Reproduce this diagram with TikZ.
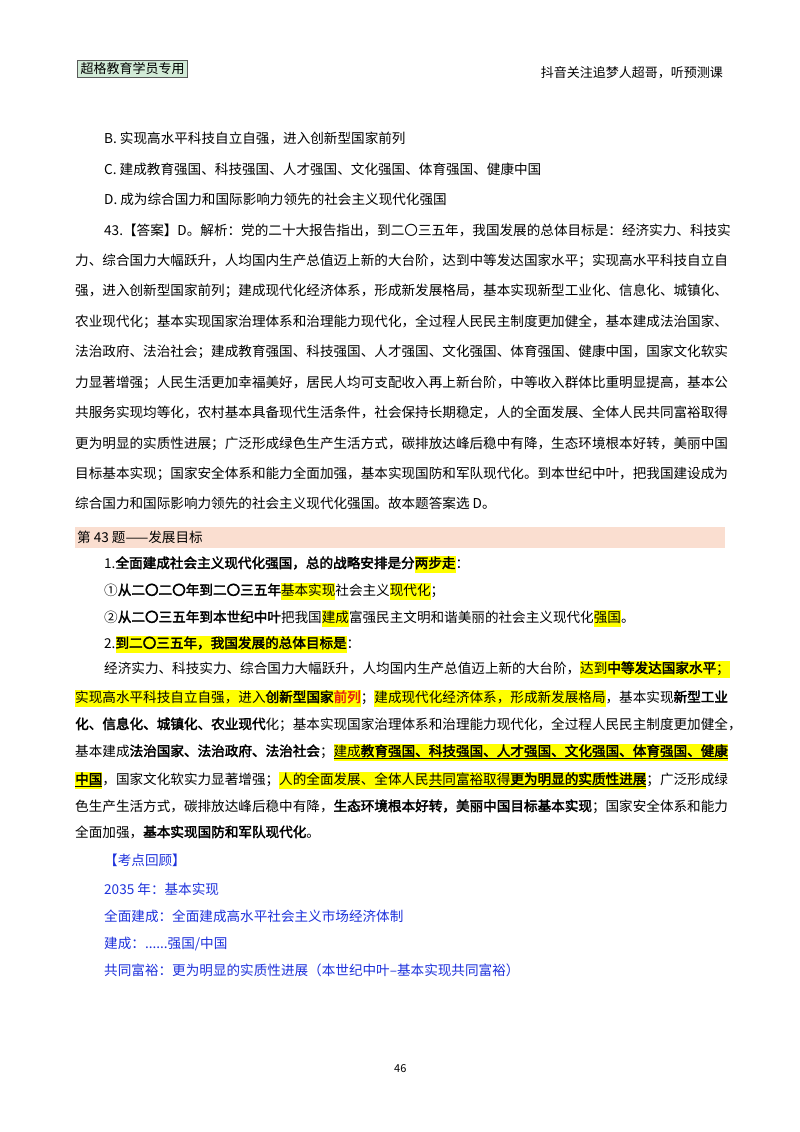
\documentclass[tikz,border=0pt]{standalone}
\usepackage{fontspec}
\setmainfont{Noto Sans CJK SC}[AutoFakeBold=2.5]
\XeTeXlinebreaklocale "zh"
\XeTeXlinebreakskip=0pt plus 3pt
\definecolor{hly}{RGB}{255,255,0}
\definecolor{pinkbar}{RGB}{250,222,208}
\definecolor{bl}{RGB}{30,50,220}
\definecolor{rd}{RGB}{230,30,20}
\definecolor{hdrgreen}{RGB}{210,235,215}
\newcommand\hl[1]{{\setlength\fboxsep{0pt}\colorbox{hly}{\rule[-4.5pt]{0pt}{17pt}#1}}}
\newcommand\jl[1]{\makebox[649pt][s]{#1}}
\newcommand\jm[1]{\makebox[620pt][s]{#1}}
\begin{document}
\begin{tikzpicture}[x=1pt,y=-1pt,
  txt/.style={anchor=base west,inner sep=0pt,font=\fontsize{13.6}{16}\selectfont},
  btxt/.style={txt,text=bl}]
\useasboundingbox (0,0) rectangle (800,1132);
\fill[white] (0,0) rectangle (800,1132);
% header
\node[draw=black!65,fill=hdrgreen,line width=1pt,inner xsep=3pt,inner ysep=2pt,anchor=west,font=\fontsize{13}{15}\selectfont] (hdr) at (77,69) {超格教育学员专用};
\node[anchor=east,inner sep=0pt,font=\fontsize{13}{15}\selectfont] (hdr2) at (723,73) {抖音关注追梦人超哥，听预测课};
% options
\node[txt] (b) at (104,143) {B. 实现高水平科技自立自强，进入创新型国家前列};
\node[txt] (c) at (104,174) {C. 建成教育强国、科技强国、人才强国、文化强国、体育强国、健康中国};
\node[txt] (d) at (104,204) {D. 成为综合国力和国际影响力领先的社会主义现代化强国};
% answer
\node[txt] (p1) at (104,235) {\jm{43.【答案】D。解析：党的二十大报告指出，到二〇三五年，我国发展的总体目标是：经济实力、科技实}};
\node[txt] (p2) at (75,265) {\jl{力、综合国力大幅跃升，人均国内生产总值迈上新的大台阶，达到中等发达国家水平；实现高水平科技自立自}};
\node[txt] (p3) at (75,295) {\jl{强，进入创新型国家前列；建成现代化经济体系，形成新发展格局，基本实现新型工业化、信息化、城镇化、}};
\node[txt] (p4) at (75,326) {\jl{农业现代化；基本实现国家治理体系和治理能力现代化，全过程人民民主制度更加健全，基本建成法治国家、}};
\node[txt] (p5) at (75,356) {\jl{法治政府、法治社会；建成教育强国、科技强国、人才强国、文化强国、体育强国、健康中国，国家文化软实}};
\node[txt] (p6) at (75,387) {\jl{力显著增强；人民生活更加幸福美好，居民人均可支配收入再上新台阶，中等收入群体比重明显提高，基本公}};
\node[txt] (p7) at (75,417) {\jl{共服务实现均等化，农村基本具备现代生活条件，社会保持长期稳定，人的全面发展、全体人民共同富裕取得}};
\node[txt] (p8) at (75,448) {\jl{更为明显的实质性进展；广泛形成绿色生产生活方式，碳排放达峰后稳中有降，生态环境根本好转，美丽中国}};
\node[txt] (p9) at (75,478) {\jl{目标基本实现；国家安全体系和能力全面加强，基本实现国防和军队现代化。到本世纪中叶，把我国建设成为}};
\node[txt] (p10) at (75,508) {综合国力和国际影响力领先的社会主义现代化强国。故本题答案选 D。};
% pink bar
\fill[pinkbar] (75,527) rectangle (725,548);
\node[txt] (t43) at (77,542) {第 43 题——发展目标};
\node[txt] (s1) at (104,568) {1.\textbf{全面建成社会主义现代化强国，总的战略安排是分}\hl{\textbf{两步走}}：};
\node[txt] (s2) at (104,595) {①\textbf{从二〇二〇年到二〇三五年}\hl{基本实现}社会主义\hl{现代化}；};
\node[txt] (s3) at (104,622) {②\textbf{从二〇三五年到本世纪中叶}把我国\hl{建成}富强民主文明和谐美丽的社会主义现代化\hl{强国}。};
\node[txt] (s4) at (104,648) {2.\hl{\textbf{到二〇三五年，我国发展的总体目标是}}：};
\node[txt] (s5) at (104,673) {\jm{经济实力、科技实力、综合国力大幅跃升，人均国内生产总值迈上新的大台阶，\hl{达到\textbf{中等发达国家水平}；}}};
\node[txt] (s6) at (75,702) {\jl{\hl{实现高水平科技自立自强，进入\textbf{创新型国家}\textcolor{rd}{\textbf{前列}}}；\hl{建成现代化经济体系，形成新发展格局}，基本实现\textbf{新型工业}}};
\node[txt] (s7) at (75,729) {\jl{\textbf{化、信息化、城镇化、农业现代}化；基本实现国家治理体系和治理能力现代化，全过程人民民主制度更加健全，}};
\node[txt] (s8) at (75,756) {\jl{基本建成\textbf{法治国家、法治政府、法治社会}；\hl{\underline{建成\textbf{教育强国、科技强国、人才强国、文化强国、体育强国、健康}}}}};
\node[txt] (s9) at (75,784) {\jl{\hl{\underline{\textbf{中国}}}，国家文化软实力显著增强；\hl{人的全面发展、全体人民\underline{共同富裕取得\textbf{更为明显的实质性进展}}}；广泛形成绿}};
\node[txt] (s10) at (75,811) {\jl{色生产生活方式，碳排放达峰后稳中有降，\textbf{生态环境根本好转，美丽中国目标基本实现}；国家安全体系和能力}};
\node[txt] (s11) at (75,837) {全面加强，\textbf{基本实现国防和军队现代化}。};
% review
\node[btxt] (r1) at (104,865) {【考点回顾】};
\node[btxt] (r2) at (104,894) {2035 年：基本实现};
\node[btxt] (r3) at (104,921) {全面建成：全面建成高水平社会主义市场经济体制};
\node[btxt] (r4) at (104,948) {建成：......强国/中国};
\node[btxt] (r5) at (104,975) {共同富裕：更为明显的实质性进展（本世纪中叶–基本实现共同富裕）};
\node[txt,font=\fontsize{11}{13}\selectfont] (pg) at (394,1072) {46};
\end{tikzpicture}
\end{document}
